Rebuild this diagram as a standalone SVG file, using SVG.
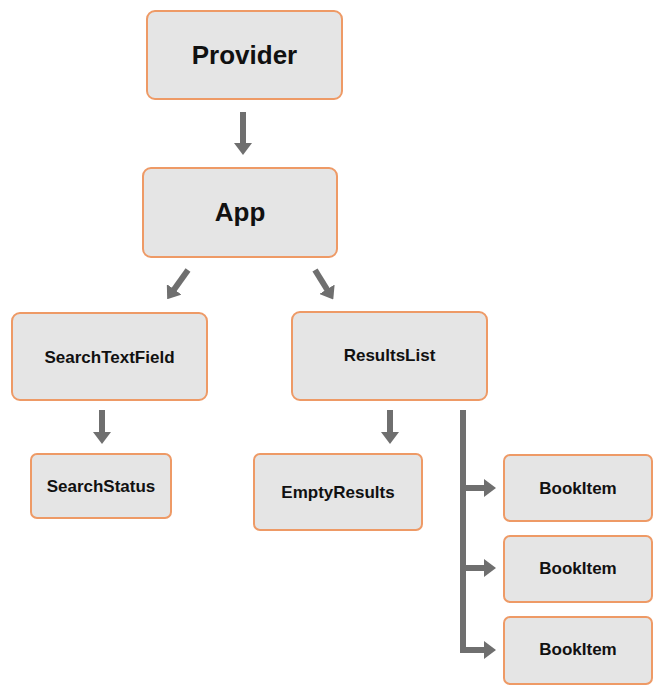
<svg xmlns="http://www.w3.org/2000/svg" width="653" height="688" viewBox="0 0 653 688">
<style>
.box{fill:#e5e5e5;stroke:#ee9a66;stroke-width:2}
.t{font-family:"Liberation Sans",Arial,sans-serif;font-weight:bold;fill:#111;text-anchor:middle;dominant-baseline:central}
.big{font-size:26px}
.sm{font-size:17px}
.c{stroke:#6f6f6f;stroke-width:6;fill:none}
</style>
<defs>
<marker id="ah" markerUnits="userSpaceOnUse" markerWidth="12" markerHeight="18" refX="2" refY="9" orient="auto" viewBox="0 0 12 18">
<path d="M0,0 L12,9 L0,18 Z" fill="#6f6f6f"/>
</marker>
</defs>
<rect width="653" height="688" fill="#ffffff"/>
<g id="connectors">
<line class="c" x1="243" y1="112" x2="243" y2="145" marker-end="url(#ah)"/>
<line class="c" x1="188" y1="270" x2="173" y2="291" marker-end="url(#ah)"/>
<line class="c" x1="315" y1="270" x2="328" y2="291" marker-end="url(#ah)"/>
<line class="c" x1="102" y1="410" x2="102" y2="434" marker-end="url(#ah)"/>
<line class="c" x1="390" y1="410" x2="390" y2="434" marker-end="url(#ah)"/>
<polyline class="c" points="463,410 463,650 486,650" marker-end="url(#ah)"/>
<line class="c" x1="463" y1="488" x2="486" y2="488" marker-end="url(#ah)"/>
<line class="c" x1="463" y1="568" x2="486" y2="568" marker-end="url(#ah)"/>
</g>
<g id="provider"><rect class="box" x="147" y="11" width="195" height="88" rx="8"/><text class="t big" x="244.5" y="55">Provider</text></g>
<g id="app"><rect class="box" x="143" y="168" width="194" height="89" rx="8"/><text class="t big" x="240" y="212">App</text></g>
<g id="searchtextfield"><rect class="box" x="12" y="313" width="195" height="87" rx="8"/><text class="t sm" x="109.5" y="357">SearchTextField</text></g>
<g id="resultslist"><rect class="box" x="292" y="312" width="195" height="88" rx="8"/><text class="t sm" x="389.5" y="355">ResultsList</text></g>
<g id="searchstatus"><rect class="box" x="31" y="454" width="140" height="64" rx="6"/><text class="t sm" x="101" y="486">SearchStatus</text></g>
<g id="emptyresults"><rect class="box" x="254" y="454" width="168" height="76" rx="6"/><text class="t sm" x="338" y="492">EmptyResults</text></g>
<g id="bookitem1"><rect class="box" x="504" y="455" width="148" height="66" rx="6"/><text class="t sm" x="578" y="488">BookItem</text></g>
<g id="bookitem2"><rect class="box" x="504" y="536" width="148" height="66" rx="6"/><text class="t sm" x="578" y="568">BookItem</text></g>
<g id="bookitem3"><rect class="box" x="504" y="617" width="148" height="67" rx="6"/><text class="t sm" x="578" y="649">BookItem</text></g>
</svg>
